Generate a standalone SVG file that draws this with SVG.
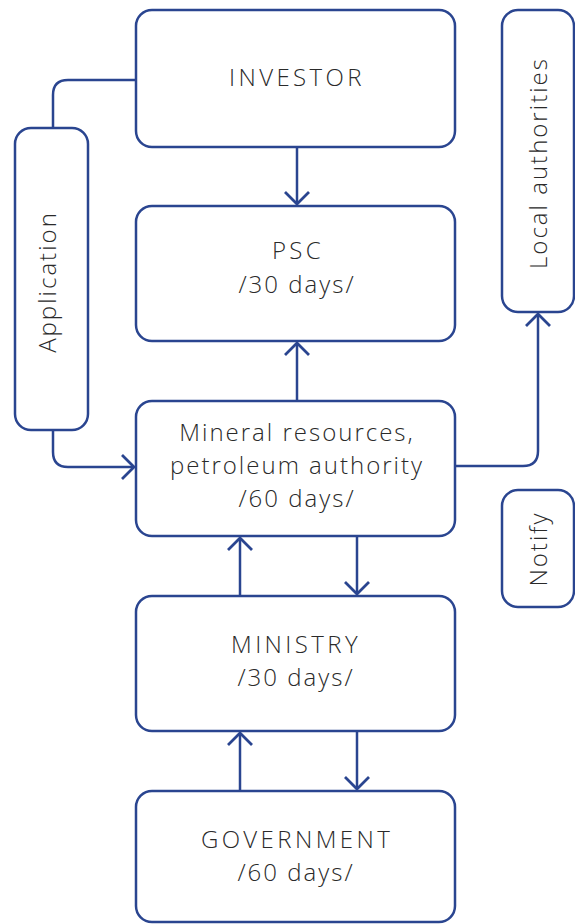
<svg xmlns="http://www.w3.org/2000/svg" width="575" height="924" viewBox="0 0 575 924">
<style>
.box{fill:#fff;stroke:#2a4590;stroke-width:2.5}
.ln{fill:none;stroke:#2a4590;stroke-width:2.5}
.t{font-family:"Open Sans","Noto Sans",sans-serif;font-size:24px;font-weight:300;fill:#2a2a2a;text-anchor:middle;letter-spacing:2px}
.c{letter-spacing:3.4px}
</style>
<defs>
<marker id="ah" viewBox="0 0 16 28" refX="14" refY="14" markerWidth="16" markerHeight="28" markerUnits="userSpaceOnUse" orient="auto">
<path d="M2,2 L14,14 L2,26" fill="none" stroke="#2a4590" stroke-width="2.8"/>
</marker>
</defs>
<rect width="575" height="924" fill="#fff"/>
<g id="connectors">
<path class="ln" d="M136,80 H68 Q53,80 53,95 V128"/>
<path class="ln" d="M53,430 V452 Q53,467 68,467 H134" marker-end="url(#ah)"/>
<path class="ln" d="M455,466 H523 Q538,466 538,451 V314" marker-end="url(#ah)"/>
<path class="ln" d="M297,147 V204" marker-end="url(#ah)"/>
<path class="ln" d="M297,401 V343" marker-end="url(#ah)"/>
<path class="ln" d="M240,596 V538" marker-end="url(#ah)"/>
<path class="ln" d="M357,536 V594" marker-end="url(#ah)"/>
<path class="ln" d="M240,791 V733" marker-end="url(#ah)"/>
<path class="ln" d="M357,731 V789" marker-end="url(#ah)"/>
</g>
<g id="investor"><rect class="box" x="136" y="10" width="319" height="137" rx="16"/><text class="t c" x="297" y="86">INVESTOR</text></g>
<g id="psc"><rect class="box" x="136" y="206" width="319" height="135" rx="16"/><text class="t c" x="298" y="259">PSC</text><text class="t" x="297" y="293">/30 days/</text></g>
<g id="mineral"><rect class="box" x="136" y="401" width="319" height="135" rx="16"/><text class="t" x="297" y="441">Mineral resources,</text><text class="t" x="297" y="474">petroleum authority</text><text class="t" x="297" y="507">/60 days/</text></g>
<g id="ministry"><rect class="box" x="136" y="596" width="319" height="135" rx="16"/><text class="t c" x="296" y="653">MINISTRY</text><text class="t" x="296" y="686">/30 days/</text></g>
<g id="government"><rect class="box" x="136" y="791" width="319" height="131" rx="16"/><text class="t c" x="297" y="848">GOVERNMENT</text><text class="t" x="296" y="881">/60 days/</text></g>
<g id="application"><rect class="box" x="15" y="128" width="73" height="302" rx="16"/><text class="t" transform="translate(56,282) rotate(-90)">Application</text></g>
<g id="local"><rect class="box" x="502" y="10" width="72" height="302" rx="16"/><text class="t" transform="translate(547,163) rotate(-90)">Local authorities</text></g>
<g id="notify"><rect class="box" x="502" y="490" width="72" height="117" rx="16"/><text class="t" transform="translate(547,549) rotate(-90)">Notify</text></g>
</svg>
